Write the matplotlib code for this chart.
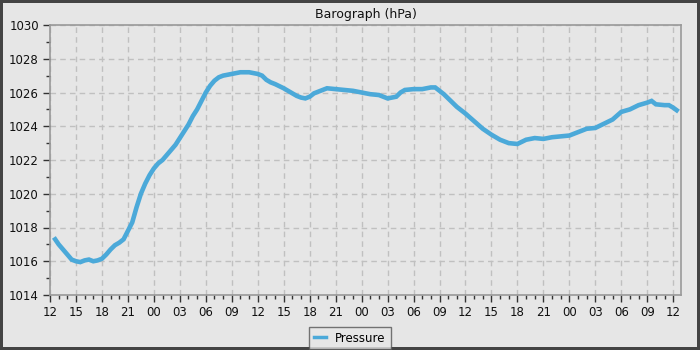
import matplotlib
matplotlib.use("Agg")
import matplotlib.pyplot as plt
from matplotlib.ticker import MultipleLocator

# Jam sejak awal grafik (mulai pukul 12) dan tekanan (hPa)
hours = [0.6, 1.0, 1.5, 2.0, 2.5, 3.0, 3.5, 4.0, 4.5, 5.0, 5.5, 6.0, 6.5, 7.0, 7.5,
         8.0, 8.5, 9.0, 9.5, 10.0, 10.5, 11.0, 11.5, 12.0, 12.5, 13.0, 13.5, 14.0,
         14.5, 15.0, 15.5, 16.0, 16.5, 17.0, 17.5, 18.0, 18.5, 19.0, 19.5, 20.0,
         21.0, 22.0, 23.0, 24.0, 24.5, 25.0, 25.5, 26.0, 27.0, 28.0, 28.5, 29.0,
         29.5, 30.0, 30.5, 31.0, 32.0, 33.0, 34.0, 35.0, 36.0, 37.0, 38.0, 39.0,
         39.5, 40.0, 40.5, 41.0, 42.0, 43.0, 44.0, 44.5, 45.0, 45.5, 46.0, 46.5,
         47.0, 48.0, 49.0, 50.0, 51.0, 52.0, 53.0, 54.0, 55.0, 56.0, 57.0, 58.0,
         59.0, 60.0, 61.0, 62.0, 63.0, 64.0, 65.0, 66.0, 67.0, 68.0, 69.0, 69.5,
         70.0, 71.0, 71.5, 72.0, 72.4]
pressure = [1017.3, 1017.0, 1016.7, 1016.4, 1016.1, 1016.0, 1015.95, 1016.05, 1016.1,
            1016.0, 1016.05, 1016.15, 1016.4, 1016.7, 1016.95, 1017.1, 1017.3, 1017.8,
            1018.3, 1019.2, 1020.0, 1020.6, 1021.1, 1021.5, 1021.8, 1022.0, 1022.3,
            1022.6, 1022.9, 1023.3, 1023.7, 1024.1, 1024.6, 1025.0, 1025.5, 1026.0,
            1026.4, 1026.7, 1026.9, 1027.0, 1027.1, 1027.2, 1027.2, 1027.1, 1027.0,
            1026.75, 1026.6, 1026.5, 1026.25, 1025.95, 1025.8, 1025.7, 1025.65,
            1025.75, 1025.95, 1026.05, 1026.25, 1026.2, 1026.15, 1026.1, 1026.0,
            1025.9, 1025.85, 1025.65, 1025.7, 1025.75, 1026.0, 1026.15, 1026.2,
            1026.2, 1026.3, 1026.3, 1026.1, 1025.9, 1025.65, 1025.4, 1025.15,
            1024.75, 1024.3, 1023.85, 1023.5, 1023.2, 1023.0, 1022.95, 1023.2,
            1023.3, 1023.25, 1023.35, 1023.4, 1023.45, 1023.65, 1023.85, 1023.9,
            1024.15, 1024.4, 1024.85, 1025.0, 1025.25, 1025.4, 1025.5, 1025.3,
            1025.25, 1025.25, 1025.1, 1024.95]

tick_hours = list(range(0, 73, 3))
tick_labels = ["12", "15", "18", "21", "00", "03", "06", "09"] * 3 + ["12"]

bg = "#e6e6e6"
fig = plt.figure(figsize=(7, 3.5), dpi=100, facecolor=bg,
                 edgecolor="#444444", linewidth=3)
ax = fig.add_axes([50 / 700, 55 / 350, 631 / 700, 270 / 350])
ax.set_facecolor(bg)

ax.plot(hours, pressure, color="#4ba9d9", linewidth=3.3, label="Pressure",
        solid_joinstyle="miter")

ax.set_xlim(0, 72.9)
ax.set_ylim(1014, 1030)
ax.set_xticks(tick_hours)
ax.set_xticklabels(tick_labels)
ax.xaxis.set_minor_locator(MultipleLocator(1))
ax.yaxis.set_major_locator(MultipleLocator(2))
ax.yaxis.set_minor_locator(MultipleLocator(1))

ax.grid(True, which="major", color="#c0c0c0", linestyle=(0, (4, 3)), linewidth=1)
for s in ax.spines.values():
    s.set_color("#999999")
    s.set_linewidth(1.2)
ax.tick_params(which="major", direction="out", length=5, width=1, color="#333333",
               labelsize=8.5, labelcolor="#111111", pad=3)
ax.tick_params(which="minor", direction="out", length=3, width=1, color="#333333")

ax.set_title("Barograph (hPa)", fontsize=9, color="#111111", pad=5)

leg = fig.legend(loc="center", bbox_to_anchor=(350 / 700, 12 / 350), frameon=True,
                 fontsize=8.5, handlelength=1.0, fancybox=False, borderpad=0.4)
leg.get_frame().set_edgecolor("#555555")
leg.get_frame().set_facecolor(bg)
leg.get_frame().set_linewidth(1)
for ln in leg.get_lines():
    ln.set_linewidth(2.5)

fig.savefig("out.png", dpi=100, facecolor=fig.get_facecolor(),
            edgecolor=fig.get_edgecolor())
